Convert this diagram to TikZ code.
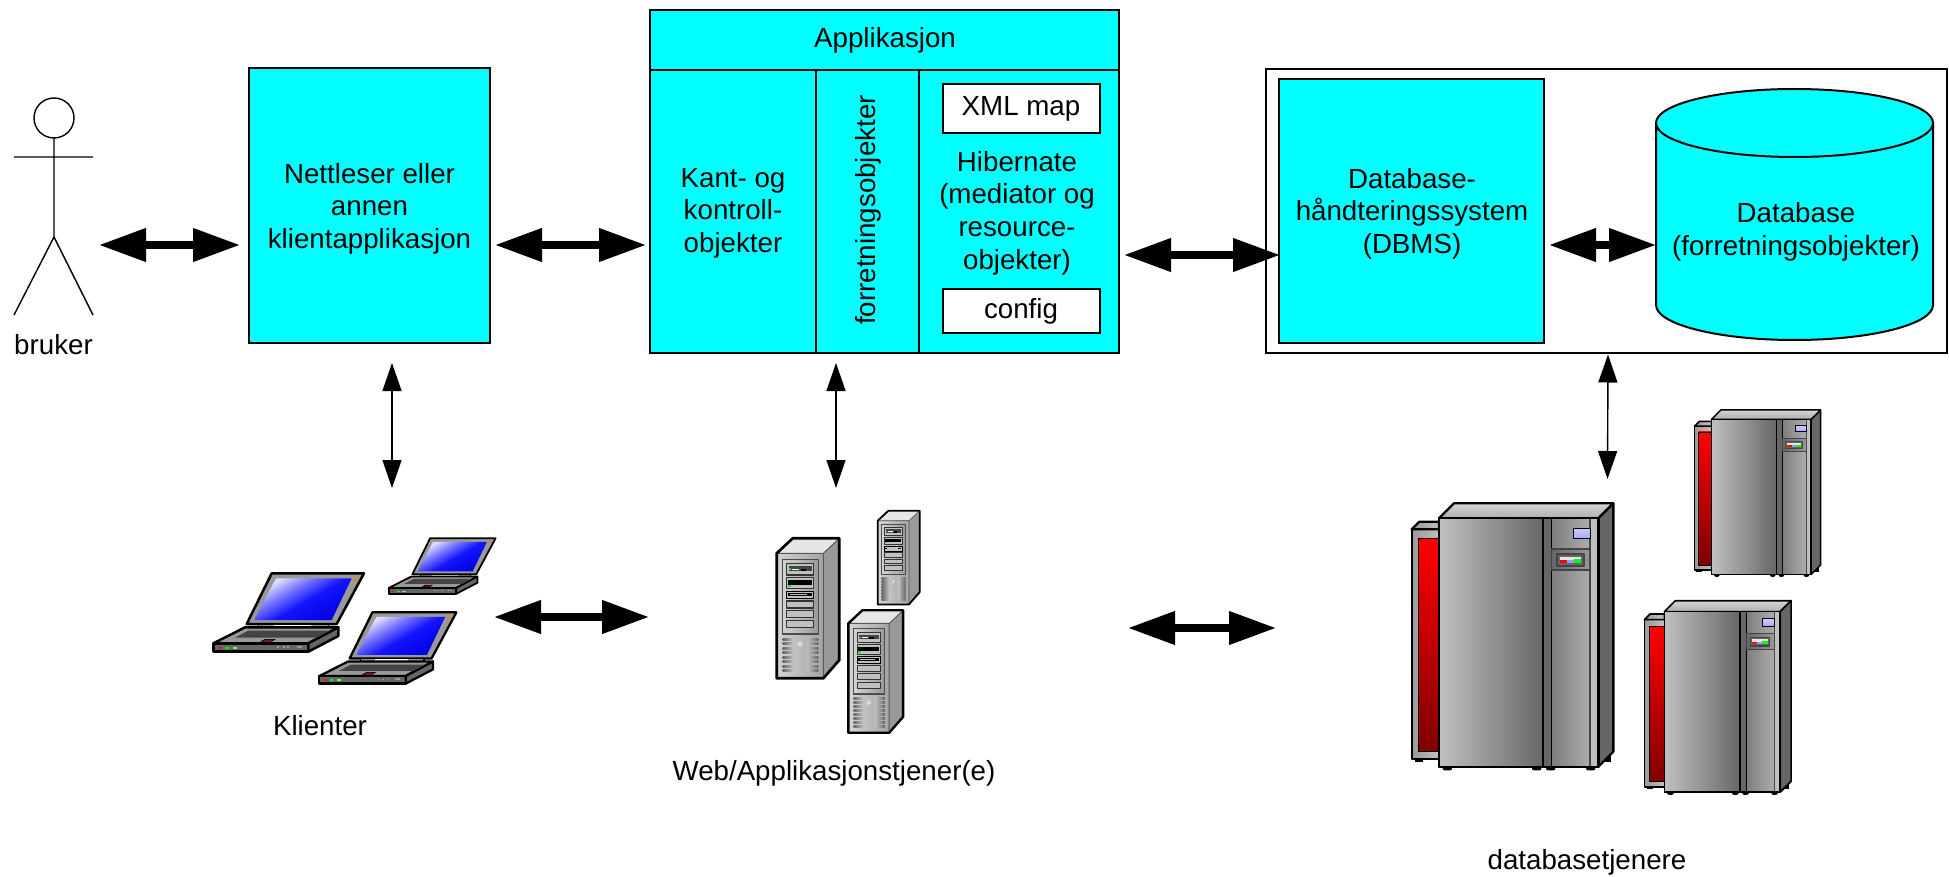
\documentclass[tikz,border=0pt]{standalone}
\usepackage{fontspec}
\setmainfont{Liberation Sans}
\usetikzlibrary{arrows.meta}
\definecolor{cy}{HTML}{00FFFF}
\definecolor{g1}{HTML}{E6E6E6}
\definecolor{g2}{HTML}{C0C0C0}
\definecolor{g3}{HTML}{999999}
\definecolor{g4}{HTML}{666666}
\definecolor{g5}{HTML}{444444}
\definecolor{scrlight}{HTML}{DDDDFF}
\definecolor{scrmid}{HTML}{7070FF}
\definecolor{scrblue}{HTML}{1414FF}
\definecolor{scrdeep}{HTML}{0000E0}
\pgfdeclareverticalshading{lapscr}{100bp}{color(0bp)=(scrlight);color(27bp)=(scrlight);color(40bp)=(scrmid);color(53bp)=(scrblue);color(75bp)=(scrdeep);color(100bp)=(scrdeep)}
\tikzset{
  txt/.style={font=\fontsize{13.85pt}{16.3pt}\selectfont,align=center,inner sep=0pt,outer sep=0pt},
  boxc/.style={draw=black,line width=1pt,fill=cy,inner sep=0pt,outer sep=0pt,minimum width=#1},
  whitebox/.style={draw=black,line width=1pt,fill=white,inner sep=0pt,outer sep=0pt,font=\fontsize{13.85pt}{16pt}\selectfont},
  ghost/.style={inner sep=0pt,outer sep=0pt},
  bi/.style={line width=3.7pt,{Triangle[length=23.5pt,width=16pt]}-{Triangle[length=23.5pt,width=16pt]}},
  thinbi/.style={line width=0.7pt,{Triangle[length=14pt,width=9.5pt]}-{Triangle[length=14pt,width=9.5pt]}}
}
% ---------- laptop, local units = 1/3 px of the reference
\newcommand\laptop[3]{%
\begin{scope}[shift={(#1,#2)},x=#3*0.16667pt,y=-#3*0.16667pt,line join=round]
\def\lw{#3*1.25pt}
\filldraw[fill=g3,draw=black,line width=\lw] (275,190)--(552,190)--(470,342)--(200,342)--cycle;
\shade[shading=lapscr,shading angle=-150] (288,205)--(515,205)--(455,330)--(222,330)--cycle;
\fill[orange] (527,209) circle (6);
\filldraw[fill=g3,draw=black,line width=#3*0.7pt] (235,342) rectangle (445,356);
\fill[white] (282,345) rectangle (392,353);
\filldraw[fill=g3,draw=black,line width=\lw] (100,400)--(195,352)--(475,352)--(385,400)--cycle;
\filldraw[fill=g4,draw=black,line width=\lw] (100,400) rectangle (385,425);
\filldraw[fill=g4,draw=black,line width=\lw] (385,400)--(475,352)--(475,378)--(385,425)--cycle;
\fill[g5] (165,383)--(205,362)--(450,362)--(410,383)--cycle;
\fill[black] (240,395)--(255,387)--(288,387)--(275,395)--cycle;
\fill[red!70!black] (250,393)--(258,389)--(280,389)--(272,393)--cycle;
\fill[red] (116,411) rectangle (124,417);
\fill[green] (136,411) rectangle (146,417);
\fill[green!60!white] (158,411) rectangle (172,417);
\foreach \q in {292,308,322}{\fill[g3] (\q,409) rectangle (\q+6,414);}
\fill[g3] (350,408) rectangle (366,414);
\end{scope}}
% ---------- tower server
\newcommand\tower[3]{%
\begin{scope}[shift={(#1,#2)},x=#3*0.16667pt,y=-#3*0.16667pt,line join=round]
\def\lw{#3*1.35pt}
\fill[g1] (140,190)--(188,145)--(328,145)--(280,190)--cycle;
\fill[g3] (280,190)--(328,145)--(328,510)--(280,565)--cycle;
\shade[left color=g2!70!white,right color=g2!85!black] (140,190) rectangle (280,565);
\shade[left color=g2!70!white,right color=g3,draw=black!70,line width=#3*0.8pt] (157,208) rectangle (265,432);
\filldraw[fill=g2,draw=black!80,line width=#3*0.6pt] (170,220) rectangle (250,255);
\fill[g5] (176,228) rectangle (246,243);
\fill[white] (186,236) rectangle (208,241);
\fill[black] (212,236) rectangle (228,243);
\fill[green] (176,235) rectangle (182,240);
\filldraw[fill=g2,draw=black!80,line width=#3*0.6pt] (170,263) rectangle (250,296);
\fill[black] (174,270) rectangle (246,284);
\fill[g2] (178,284) rectangle (230,292);
\fill[green] (174,286) rectangle (182,291);
\filldraw[fill=g2,draw=black,line width=#3*0.6pt] (170,305) rectangle (250,326);
\fill[black] (174,310) rectangle (246,318);
\fill[g2] (180,313) rectangle (232,316);
\foreach \q in {333,362,392}{\filldraw[fill=g2,draw=black!80,line width=#3*0.6pt] (170,\q) rectangle (250,\q+21);}
\foreach \k in {0,...,7}{
  \shade[left color=g4,right color=g2] (158,445+13.5*\k) rectangle (190,451+13.5*\k);
  \shade[left color=g2,right color=g4] (232,445+13.5*\k) rectangle (265,451+13.5*\k);}
\fill[white!85!black] (210,462) circle (8);
\fill[green!60!yellow] (211,485) circle (3.5);
\draw[black!65,line width=#3*0.5pt] (140,190)--(280,190)--(328,145) (280,190)--(280,565);
\draw[black,line width=\lw] (140,190)--(188,145)--(328,145)--(328,510)--(280,565)--(140,565)--cycle;
\end{scope}}
% ---------- database server cabinet
\newcommand\cabinet[3]{%
\begin{scope}[shift={(#1,#2)},x=#3*0.16667pt,y=-#3*0.16667pt,line join=round]
\def\lw{#3*1.15pt}
\foreach \a/\b in {158/186,426/454,468/496,588/616}{\fill[black,rounded corners=1pt] (\a,1120) rectangle (\b,1141);}
\fill[black] (74,1100) rectangle (100,1117);
\fill[black] (640,1090) rectangle (662,1116);
\shade[left color=g3,right color=g2,draw=black,line width=\lw] (65,418) rectangle (147,1108);
\shade[left color=g3,right color=g2,draw=black,line width=\lw] (65,418)--(88,395)--(147,395)--(147,418)--cycle;
\shade[top color=red,bottom color=red!50!black,draw=black,line width=#3*0.4pt] (85,445) rectangle (147,1085);
\shade[top color=g2!65!white,bottom color=g2!90!black,draw=black,line width=\lw] (147,385)--(192,340)--(670,340)--(625,385)--cycle;
\filldraw[fill=g4,draw=black,line width=\lw] (625,385)--(670,340)--(670,1085)--(625,1130)--cycle;
\shade[left color=g2,right color=g4,draw=black,line width=\lw] (147,385) rectangle (460,1130);
\filldraw[fill=g4,draw=black,line width=#3*0.7pt] (460,385) rectangle (485,1130);
\shade[left color=g4!85!white,right color=g2!90!black] (485,385) rectangle (600,1130);
\filldraw[fill=g2,draw=g5,line width=#3*0.6pt] (600,385) rectangle (625,1130);
\draw[black,line width=\lw] (147,385) rectangle (625,1130);
\draw[black,line width=#3*0.8pt] (485,385)--(485,1130);
\shade[left color=g4,right color=g2!80!black,draw=g5,line width=#3*0.6pt] (485,477) rectangle (600,540);
\shade[top color=white!80!blue,bottom color=blue!35!white,draw=black,line width=#3*0.6pt] (550,415) rectangle (601,445);
\filldraw[fill=g4,draw=g5,line width=#3*0.9pt] (502,493) rectangle (582,527);
\fill[g1] (510,500) rectangle (574,510);
\fill[red] (510,510) rectangle (531,519);
\fill[blue!40!white] (531,510) rectangle (552,519);
\fill[green] (552,507) rectangle (574,519);
\end{scope}}
\begin{document}
\begin{tikzpicture}[x=0.5pt,y=-0.5pt]
\useasboundingbox (0,0) rectangle (1949,877);
\fill[white] (0,0) rectangle (1949,877);

% user
\node[ghost,minimum width=39.5pt,minimum height=108.5pt] (user) at (53.5,206.5) {};
\node[draw=black,line width=0.7pt,circle,minimum size=20pt,inner sep=0pt,outer sep=0pt] (head) at (54,118) {};
\coordinate (hip) at (54,237);
\coordinate (armL) at (14,157);
\coordinate (armR) at (93,157);
\coordinate (footL) at (14,315);
\coordinate (footR) at (93,315);
\draw[line width=0.7pt] (head.south)--(hip) (armL)--(armR) (footL)--(hip)--(footR);
\node[txt] (userlabel) at (53.5,345) {bruker};

% browser
\node[boxc=120.5pt,minimum height=137.5pt] (browser) at (369.5,205.5) {};
\node[txt] (browserlabel) at (369.5,208.5) {Nettleser eller\\annen\\klientapplikasjon};

% application
\node[boxc=234.5pt,minimum height=171.5pt] (app) at (884.5,181.5) {};
\draw[line width=1pt] (650,70)--(1119,70) (816,70)--(816,353) (919,70)--(919,353);
\node[txt] (apptitle) at (885,40.5) {Applikasjon};
\node[txt] (kant) at (733,213) {Kant- og\\kontroll-\\objekter};
\node[txt,rotate=90] (forr) at (868,210) {forretningsobjekter};
\node[whitebox,minimum width=78.5pt,minimum height=24.5pt] (xml) at (1021,108.5) {\raisebox{-0.7pt}{XML map}};
\node[txt] (hib) at (1017,213) {Hibernate\\(mediator og\\resource-\\objekter)};
\node[whitebox,minimum width=78.5pt,minimum height=22pt] (config) at (1021,311) {\raisebox{-0.8pt}{config}};

% database system
\node[draw=black,line width=1pt,fill=white,inner sep=0pt,outer sep=0pt,minimum width=340.5pt,minimum height=142pt] (dbsys) at (1606.5,211) {};
\node[boxc=132.5pt,minimum height=132pt] (dbms) at (1411.5,211) {};
\node[txt] (dbmslabel) at (1412,213.5) {Database-\\håndteringssystem\\(DBMS)};
\node[ghost,minimum width=138.5pt,minimum height=125.5pt] (database) at (1794.5,214.5) {};
\filldraw[fill=cy,draw=black,line width=1pt] (1656,123)--(1656,305) .. controls (1656,324.3) and (1718,340) .. (1794.5,340) .. controls (1871,340) and (1933,324.3) .. (1933,305)--(1933,123)--cycle;
\filldraw[fill=cy,draw=black,line width=1pt] (1794.5,123) ellipse [x radius=138.5,y radius=34];
\node[txt] (dblabel) at (1796,232) {Database\\(forretningsobjekter)};

% hardware
\laptop{180}{510}{1}
\laptop{289}{554.7}{0.91}
\laptop{365}{493.3}{0.71}
\node[ghost,minimum width=141pt,minimum height=74pt] (laptops) at (354,611) {};
\node[txt] (klienter) at (320,726) {Klienter};

\tower{730}{490}{1}
\tower{846.4}{478.3}{0.67}
\tower{807.5}{568}{0.875}
\node[ghost,minimum width=72pt,minimum height=112.5pt] (servers) at (848,620.5) {};
\node[txt] (weblabel) at (834,773) {Web/Applikasjonstjener(e)};

\cabinet{1681}{339.1}{0.625}
\cabinet{1628.7}{518.3}{0.727}
\cabinet{1390}{390}{1}
\node[ghost,minimum width=205.5pt,minimum height=193pt] (cabinets) at (1616.5,602) {};
\node[txt] (dblab2) at (1587,862) {databasetjenere};

% connectors
\draw[bi] ([shift={(6,38.5)}]user.east)--([shift={(-9,39.5)}]browser.west);
\draw[bi] ([shift={(5,39.5)}]browser.east)--([shift={(-4,63.5)}]app.west);
\draw[bi] ([shift={(5,73.5)}]app.east)--([shift={(1,44)}]dbms.west);
\draw[bi] ([shift={(5,34)}]dbms.east)--([shift={(0,30.5)}]database.west);
\draw[bi] ([shift={(-1,6)}]laptops.east)--([shift={(-127,-3.5)}]servers.west);
\draw[bi] ([shift={(208,7.5)}]servers.east)--([shift={(-135,26)}]cabinets.west);
\draw[thinbi] ([shift={(22.5,20)}]browser.south)--([shift={(38,-49)}]laptops.north);
\draw[thinbi] ([shift={(-48.5,10)}]app.south)--([shift={(-12,-20)}]servers.north);
\draw[thinbi] ([shift={(1.5,1.5)}]dbsys.south)--([shift={(-9,70)}]cabinets.north);
\end{tikzpicture}
\end{document}
